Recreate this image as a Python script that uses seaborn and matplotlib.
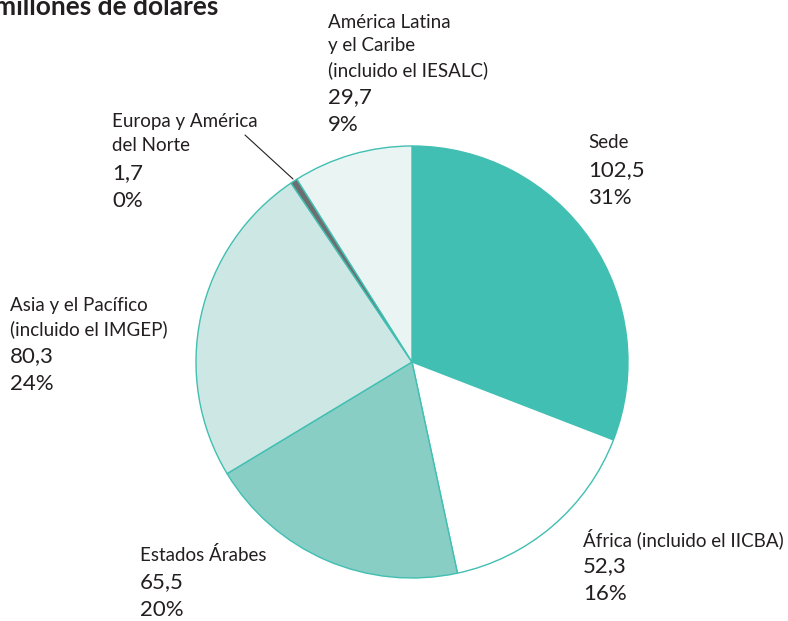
import matplotlib
matplotlib.use("Agg")
import matplotlib.pyplot as plt
import seaborn as sns

# Data (millones de dólares), clockwise from 12 o'clock
regions = ["Sede", "África (incluido el IICBA)", "Estados Árabes",
           "Asia y el Pacífico\n(incluido el IMGEP)", "Europa y América\ndel Norte",
           "América Latina\ny el Caribe\n(incluido el IESALC)"]
values = [102.5, 52.3, 65.5, 80.3, 1.7, 29.7]
value_labels = ["102,5", "52,3", "65,5", "80,3", "1,7", "29,7"]
pct_labels = ["31%", "16%", "20%", "24%", "0%", "9%"]
colors = ["#41BFB2", "#FFFFFF", "#88CEC5", "#CDE8E4", "#6D6E70", "#EAF5F3"]

# label anchor (left x px, centre y px of first line)
label_pos = [(588, 143), (583, 539), (140, 555), (10, 305), (112, 122), (328, 22)]

W, H = 788, 621
sns.set_theme(style="white")
plt.rcParams["font.family"] = ["Lato", "DejaVu Sans"]

fig = plt.figure(figsize=(W / 100, H / 100), dpi=100)
cx, cy, r = 412, 362, 216
ax = fig.add_axes([(cx - r) / W, (H - cy - r) / H, 2 * r / W, 2 * r / H])
ax.pie(values, colors=colors, startangle=90, counterclock=False,
       wedgeprops=dict(edgecolor="#41BFB2", linewidth=1))
ax.set_xlim(-1, 1)
ax.set_ylim(-1, 1)
ax.axis("off")

def px(x, y):
    return x / W, 1 - y / H

text_color = "#231F20"
for name, val, pct, (x, y) in zip(regions, value_labels, pct_labels, label_pos):
    lines = name.split("\n")
    for i, line in enumerate(lines):
        fig.text(*px(x, y + 24 * i), line, ha="left", va="center",
                 fontsize=13.5, color=text_color)
    yv = y + 24 * (len(lines) - 1) + 27
    fig.text(*px(x, yv), val, ha="left", va="center", fontsize=16, color=text_color)
    fig.text(*px(x, yv + 28), pct, ha="left", va="center", fontsize=16, color=text_color)

# leader line for Europa y América del Norte
fig.add_artist(plt.Line2D([245 / W, 293 / W], [1 - 135 / H, 1 - 179 / H],
                          color=text_color, linewidth=0.8))

fig.text(*px(-6, 15), "millones de dólares", ha="left", va="baseline",
         fontsize=19, fontweight="bold", color=text_color)

fig.savefig("out.png", dpi=100)
